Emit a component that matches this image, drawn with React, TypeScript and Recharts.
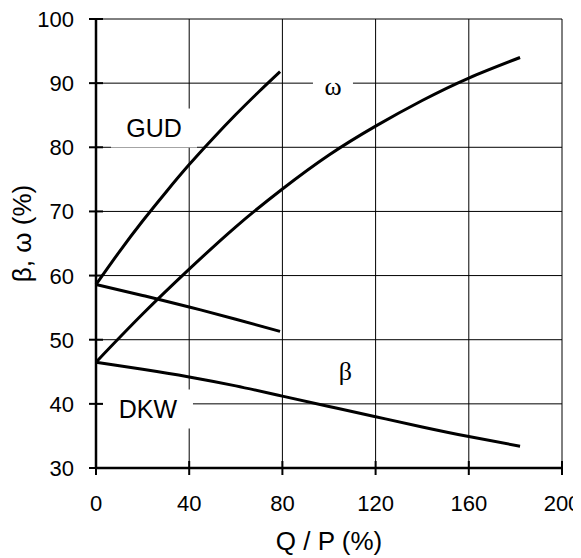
import React from "react";
import {
  LineChart,
  Line,
  XAxis,
  YAxis,
  CartesianGrid,
  ReferenceDot,
  Label,
} from "recharts";

// Q/P (%) positions and read-off curve values
const gudQ = [0, 10, 20, 30, 40, 50, 60, 70, 79];
const gudOmega = [58.6, 63.7, 68.5, 73.0, 77.3, 81.3, 85.1, 88.7, 91.8];
const gudBetaQ = [0, 20, 40, 60, 79];
const gudBeta = [58.6, 56.9, 55.1, 53.2, 51.3];
const dkwQ = [0, 20, 40, 60, 80, 100, 120, 140, 160, 182];
const dkwOmega = [46.5, 54.0, 61.0, 67.6, 73.5, 78.8, 83.3, 87.3, 90.8, 94.0];
const dkwBeta = [46.5, 45.4, 44.2, 42.8, 41.2, 39.6, 38.0, 36.4, 34.9, 33.4];

const xTicks = [0, 40, 80, 120, 160, 200];
const yTicks = [30, 40, 50, 60, 70, 80, 90, 100];

const SANS = "'Liberation Sans', Arial, sans-serif";
const SERIF = "'Liberation Serif', 'Times New Roman', serif";

const zip = (xs: number[], ys: number[]) => xs.map((x, i) => ({ x, y: ys[i] }));

const XTick = (p: any) => (
  <g>
    <line x1={p.x} x2={p.x} y1={p.y - 7} y2={p.y + 7} stroke="#000" strokeWidth={2} />
    <text x={p.x} y={p.y + 43} textAnchor="middle" fontSize={22} fontFamily={SANS} fill="#000">
      {p.payload.value}
    </text>
  </g>
);

const YTick = (p: any) => (
  <g>
    <line x1={p.x - 7} x2={p.x + 7} y1={p.y} y2={p.y} stroke="#000" strokeWidth={2} />
    <text x={p.x - 22} y={p.y + 8} textAnchor="end" fontSize={22} fontFamily={SANS} fill="#000">
      {p.payload.value}
    </text>
  </g>
);

const boxLabel = (text: string, w: number, h: number, font: string, size: number) => (p: any) => (
  <g>
    <rect x={p.cx - w / 2} y={p.cy - h / 2} width={w} height={h} fill="#fff" />
    <text
      x={p.cx}
      y={p.cy + size * 0.36}
      textAnchor="middle"
      fontSize={size}
      fontFamily={font}
      fill="#000"
    >
      {text}
    </text>
  </g>
);

export default function App() {
  return (
    <LineChart
      width={573}
      height={550}
      margin={{ top: 11, right: 19, left: 0, bottom: 0 }}
    >
      <CartesianGrid stroke="#000" strokeWidth={1} horizontalValues={yTicks} verticalValues={xTicks} />
      <XAxis
        type="number"
        dataKey="x"
        domain={[0, 200]}
        ticks={xTicks}
        height={90}
        tickSize={0}
        tickMargin={0}
        tickLine={false}
        axisLine={{ stroke: "#000", strokeWidth: 2.5 }}
        tick={<XTick />}
        interval={0}
      >
        <Label
          content={(props: any) => {
            const vb = props.viewBox;
            return (
              <text x={vb.x + vb.width / 2} y={vb.y + 82} textAnchor="middle" fontSize={26} fontFamily={SANS} fill="#000">
                Q / P (%)
              </text>
            );
          }}
        />
      </XAxis>
      <YAxis
        type="number"
        domain={[30, 100]}
        ticks={yTicks}
        width={88}
        tickSize={0}
        tickMargin={0}
        tickLine={false}
        axisLine={{ stroke: "#000", strokeWidth: 2.5 }}
        tick={<YTick />}
        interval={0}
      >
        <Label
          content={(props: any) => {
            const vb = props.viewBox;
            const cx = 14;
            const cy = vb.y + vb.height / 2 - 10;
            return (
              <text
                x={cx}
                y={cy}
                transform={`rotate(-90, ${cx}, ${cy})`}
                textAnchor="middle"
                dominantBaseline="central"
                fontSize={26}
                fontFamily={SANS}
                fill="#000"
              >
                β, ω (%)
              </text>
            );
          }}
        />
      </YAxis>
      <ReferenceDot x={24.9} y={83} r={0} shape={boxLabel("GUD", 86, 39, SANS, 25)} />
      <ReferenceDot x={22.3} y={39.2} r={0} shape={boxLabel("DKW", 90, 39, SANS, 25)} />
      <ReferenceDot x={101.7} y={89.6} r={0} shape={boxLabel("ω", 40, 30, SERIF, 26)} />
      <ReferenceDot x={107} y={45.2} r={0} shape={boxLabel("β", 24, 30, SERIF, 26)} />
      <Line data={zip(gudQ, gudOmega)} dataKey="y" type="natural" stroke="#000" strokeWidth={3} dot={false} isAnimationActive={false} />
      <Line data={zip(gudBetaQ, gudBeta)} dataKey="y" type="natural" stroke="#000" strokeWidth={3} dot={false} isAnimationActive={false} />
      <Line data={zip(dkwQ, dkwOmega)} dataKey="y" type="natural" stroke="#000" strokeWidth={3} dot={false} isAnimationActive={false} />
      <Line data={zip(dkwQ, dkwBeta)} dataKey="y" type="natural" stroke="#000" strokeWidth={3} dot={false} isAnimationActive={false} />
    </LineChart>
  );
}
